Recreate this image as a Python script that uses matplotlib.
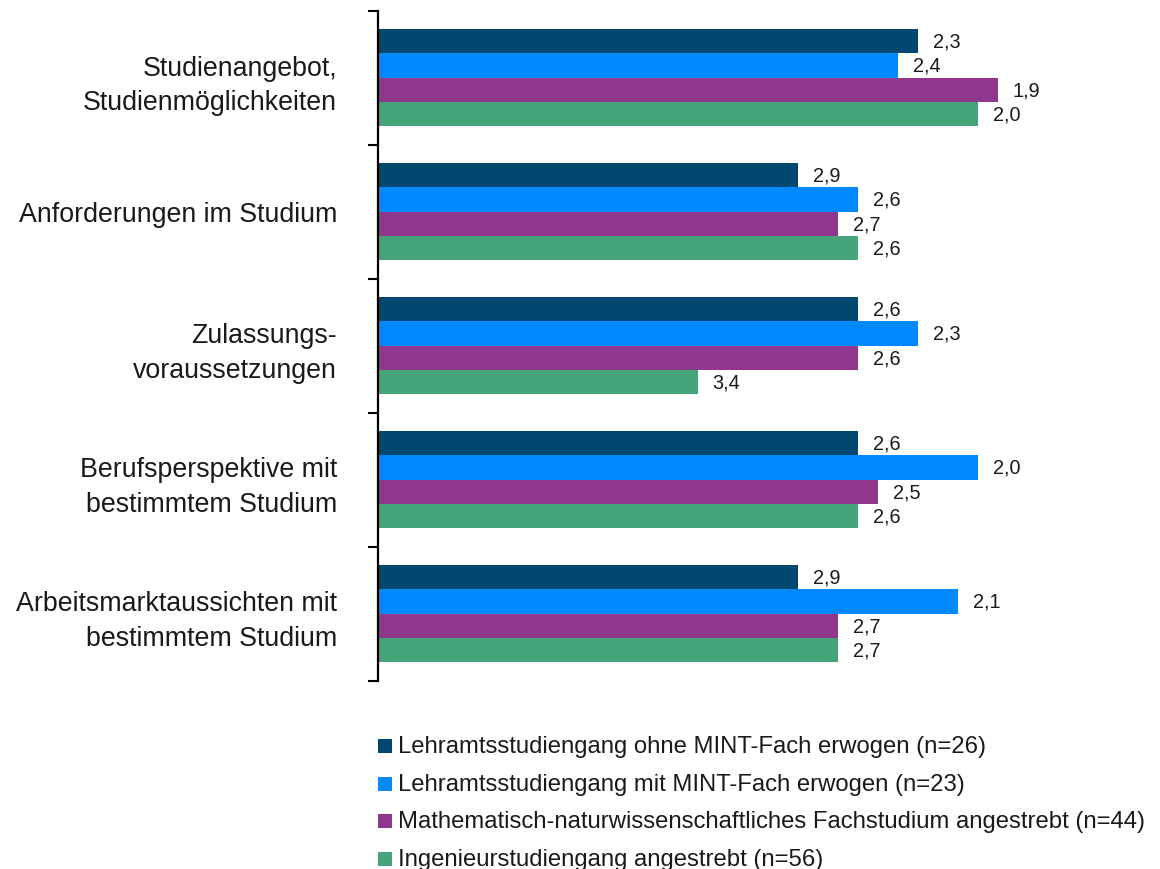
import matplotlib
matplotlib.use("Agg")
import matplotlib.pyplot as plt
import numpy as np
from matplotlib.patches import Rectangle

plt.rcParams["font.family"] = ["Liberation Sans", "DejaVu Sans"]

categories = [
    "Studienangebot,\nStudienmöglichkeiten",
    "Anforderungen im Studium",
    "Zulassungs-\nvoraussetzungen",
    "Berufsperspektive mit\nbestimmtem Studium",
    "Arbeitsmarktaussichten mit\nbestimmtem Studium",
]
series_labels = [
    "Lehramtsstudiengang ohne MINT-Fach erwogen (n=26)",
    "Lehramtsstudiengang mit MINT-Fach erwogen (n=23)",
    "Mathematisch-naturwissenschaftliches Fachstudium angestrebt (n=44)",
    "Ingenieurstudiengang angestrebt (n=56)",
]
lehramt_ohne = [2.3, 2.9, 2.6, 2.6, 2.9]
lehramt_mit = [2.4, 2.6, 2.3, 2.0, 2.1]
mathe_nat = [1.9, 2.7, 2.6, 2.5, 2.7]
ingenieur = [2.0, 2.6, 3.4, 2.6, 2.7]
series = [lehramt_ohne, lehramt_mit, mathe_nat, ingenieur]
colors = ["#004870", "#0088FF", "#8E378C", "#45A47A"]

text_color = "#1a1a1a"
W, H = 1160, 870
fig = plt.figure(figsize=(W / 100, H / 100), dpi=100)
ax = fig.add_axes([378 / W, 1 - 681.5 / H, (1100 - 378) / W, 670 / H])

y = np.arange(len(categories))
bar_h = 24.25 / 134
for i, (vals, color) in enumerate(zip(series, colors)):
    pos = y + (i - 1.5) * bar_h
    vals = np.array(vals)
    ax.barh(pos, vals - 5, left=5, height=bar_h, color=color, linewidth=0)
    for p, v in zip(pos, vals):
        ax.annotate(f"{v:.1f}".replace(".", ","), (v, p), xytext=(10.5, 0),
                    textcoords="offset points", ha="left", va="center",
                    fontsize=14.3, color=text_color)

ax.set_xlim(5, 5 - 722 / 200)
ax.set_ylim(len(categories) - 0.5, -0.5)
ax.set_xticks([])
ax.set_yticks(y)
ax.set_yticklabels(categories, fontsize=19.3, color=text_color, linespacing=1.45)
ax.set_yticks(np.arange(len(categories) + 1) - 0.5, minor=True)
ax.tick_params(axis="y", which="major", length=0, pad=29.5)
ax.tick_params(axis="y", which="minor", length=7.2, width=1.5, direction="out", color="black")
for side in ["top", "right", "bottom"]:
    ax.spines[side].set_visible(False)
ax.spines["left"].set_linewidth(1.6)
ax.spines["left"].set_color("black")

# legend drawn as squares + labels under the plot
row_y = [747, 785, 822, 860]
for ry, label, color in zip(row_y, series_labels, colors):
    fig.patches.append(Rectangle((378 / W, 1 - (ry + 7) / H), 14 / W, 14 / H,
                                 transform=fig.transFigure, color=color, linewidth=0))
    fig.text(398 / W, 1 - ry / H, label, ha="left", va="center", fontsize=17.2, color=text_color)

fig.savefig("out.png", dpi=100)
